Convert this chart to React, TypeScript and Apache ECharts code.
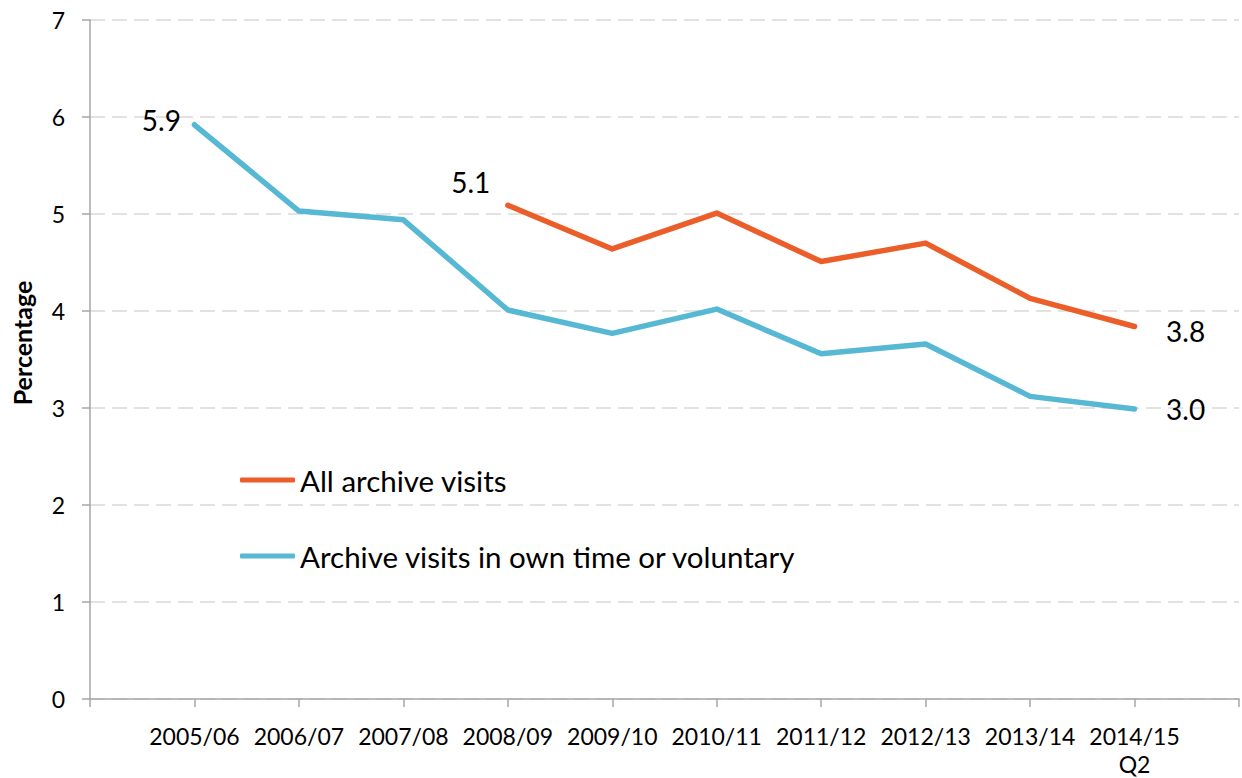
import React, { useEffect, useRef } from "react";
import * as echarts from "echarts";

const categories = [
  "2005/06",
  "2006/07",
  "2007/08",
  "2008/09",
  "2009/10",
  "2010/11",
  "2011/12",
  "2012/13",
  "2013/14",
  "2014/15\nQ2",
];
const allVisits: (number | null)[] = [null, null, null, 5.09, 4.64, 5.01, 4.51, 4.7, 4.13, 3.84];
const ownTime: (number | null)[] = [5.92, 5.03, 4.94, 4.01, 3.77, 4.02, 3.56, 3.66, 3.12, 2.99];
const yTicks = [0, 1, 2, 3, 4, 5, 6, 7];
const seriesNames = ["All archive visits", "Archive visits in own time or voluntary"];

const FONT = "Lato, 'Noto Sans', sans-serif";
const ORANGE = "#EB5E29";
const BLUE = "#57B8D4";
const AXIS = "#a6a6a6";

const labelBase = {
  show: true,
  fontSize: 28,
  color: "#000",
  fontFamily: FONT,
  formatter: (p: any) => Number(p.value).toFixed(1),
};

function buildData(values: (number | null)[], labels: Record<number, any>) {
  const inner = values.map((v, i) => {
    if (v == null) return null;
    const lab = labels[i];
    return lab ? { value: v, label: { ...labelBase, ...lab } } : v;
  });
  return [null, ...inner, null];
}

export default function App() {
  const ref = useRef<HTMLDivElement>(null);
  useEffect(() => {
    if (!ref.current) return;
    const chart = echarts.init(ref.current, null, { renderer: "svg" });
    const lastIdx = categories.length - 1;
    const firstOrange = allVisits.findIndex((v) => v != null);
    chart.setOption({
      animation: false,
      backgroundColor: "#fff",
      grid: { left: 90, right: -3, top: 20, bottom: 78, containLabel: false },
      legend: {
        show: true,
        orient: "vertical",
        left: 235,
        top: 460,
        itemWidth: 55,
        itemHeight: 5,
        itemGap: 46,
        icon: "roundRect",
        data: seriesNames,
        textStyle: { fontSize: 29.5, fontFamily: FONT, color: "#000", lineHeight: 30 },
        selectedMode: false,
      },
      xAxis: {
        type: "category",
        boundaryGap: false,
        data: ["", ...categories, ""],
        axisLine: { show: true, lineStyle: { color: AXIS, width: 1.5 } },
        axisTick: { show: true, length: 8, alignWithLabel: true, lineStyle: { color: AXIS, width: 1.5 } },
        axisLabel: {
          interval: 0,
          fontSize: 23,
          fontFamily: FONT,
          color: "#000",
          margin: 23,
          lineHeight: 28,
          align: "center",
        },
        splitLine: { show: false },
      },
      yAxis: {
        type: "value",
        min: yTicks[0],
        max: yTicks[yTicks.length - 1],
        interval: 1,
        axisLine: { show: true, lineStyle: { color: AXIS, width: 1.5 } },
        axisTick: { show: true, length: 8, lineStyle: { color: AXIS, width: 1.5 } },
        axisLabel: { fontSize: 23, fontFamily: FONT, color: "#000", margin: 25 },
        splitLine: {
          show: true,
          lineStyle: { color: "#d9d9d9", width: 1.5, type: [15, 7] },
        },
      },
      graphic: [
        {
          type: "text",
          x: 22,
          y: 343,
          rotation: Math.PI / 2,
          style: {
            text: "Percentage",
            fontSize: 25,
            fontWeight: "bold",
            fontFamily: FONT,
            fill: "#000",
            textAlign: "center",
            textVerticalAlign: "middle",
          },
        },
      ],
      series: [
        {
          name: seriesNames[0],
          type: "line",
          symbol: "circle",
          symbolSize: 1,
          showSymbol: true,
          connectNulls: false,
          color: ORANGE,
          itemStyle: { color: ORANGE },
          lineStyle: { color: ORANGE, width: 5.5, cap: "round", join: "round" },
          data: buildData(allVisits, {
            [firstOrange]: { position: "left", distance: 17, offset: [0, -23] },
            [lastIdx]: { position: "right", distance: 31, offset: [0, 4] },
          }),
          z: 3,
        },
        {
          name: seriesNames[1],
          type: "line",
          symbol: "circle",
          symbolSize: 1,
          showSymbol: true,
          connectNulls: false,
          color: BLUE,
          itemStyle: { color: BLUE },
          lineStyle: { color: BLUE, width: 5.5, cap: "round", join: "round" },
          data: buildData(ownTime, {
            0: { position: "left", distance: 13, offset: [0, -5] },
            [lastIdx]: { position: "right", distance: 31, offset: [0, 0] },
          }),
          z: 2,
        },
      ],
    });
    return () => chart.dispose();
  }, []);
  return (
    <div
      ref={ref}
      style={{ position: "fixed", left: 0, top: 0, width: 1242, height: 778, background: "#fff" }}
    />
  );
}
